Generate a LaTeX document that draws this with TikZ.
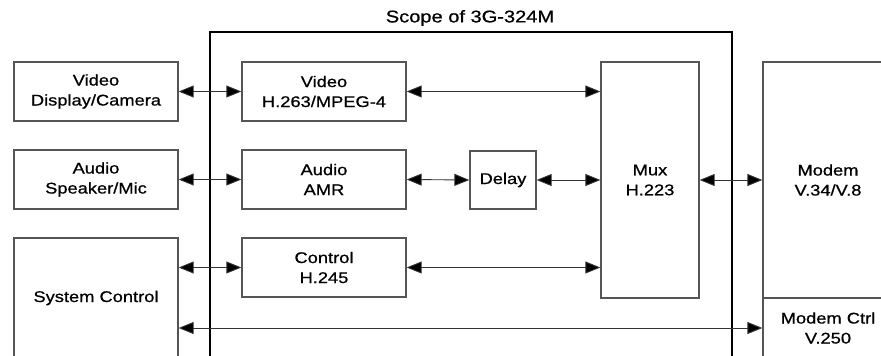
\documentclass[tikz,border=0pt]{standalone}
\usepackage{fontspec}
\setmainfont{Liberation Sans}[FakeStretch=1.18,FakeBold=0.7]
\usepackage{tikz}
\usetikzlibrary{arrows.meta,positioning,calc}
\definecolor{boxline}{HTML}{555555}
\definecolor{wire}{HTML}{333333}
\begin{document}
\begin{tikzpicture}[x=1pt,y=-1pt,
  blk/.style={draw=boxline,line width=1.3pt,align=center,inner sep=0pt,
    minimum width=164pt,minimum height=59pt,font=\fontsize{15.5}{20}\selectfont},
  link/.style={wire,line width=0.9pt,
    arrows={Triangle[length=15pt,width=12pt,fill=black]-Triangle[length=15pt,width=12pt,fill=black]}}]
\useasboundingbox (0,0) rectangle (881,356);
\clip (0,0) rectangle (881,356);
\draw[line width=2.4pt] (210,400)--(210,32)--(732,32)--(732,400);
\node[font=\fontsize{17}{20}\selectfont] (title) at (470,18) {Scope of 3G-324M};
\node[blk] (viddev) at (96,91.5) {Video\\Display/Camera};
\node[blk] (auddev) at (96,179.5) {Audio\\Speaker/Mic};
\node[blk,minimum height=120pt] (sysctl) at (96,298) {System Control};
\node[blk] (vidcodec) at (324,91.5) {Video\\H.263/MPEG-4};
\node[blk] (audcodec) at (324,179.5) {Audio\\AMR};
\node[blk] (ctrl) at (324,267.5) {Control\\H.245};
\node[blk,minimum width=66pt,minimum height=58pt] (delay) at (503,180) {Delay};
\node[blk,minimum width=98pt,minimum height=236pt] (mux) at (650,180) {Mux\\H.223};
\node[blk,minimum width=130pt,minimum height=236pt] (modem) at (828,180) {Modem\\V.34/V.8};
\node[blk,minimum width=130pt,minimum height=60pt] (modemctrl) at (828,328) {Modem Ctrl\\V.250};
\draw[link] (viddev.east) -- (vidcodec.west);
\draw[link] (vidcodec.east) -- (vidcodec.east -| mux.west);
\draw[link] (auddev.east) -- (audcodec.west);
\draw[link] (audcodec.east) -- (delay.west);
\draw[link] (delay.east) -- (mux.west);
\draw[link] (ctrl.west -| sysctl.east) -- (ctrl.west);
\draw[link] (ctrl.east) -- (ctrl.east -| mux.west);
\draw[link] (mux.east) -- (modem.west);
\draw[link] (modemctrl.west -| sysctl.east) -- (modemctrl.west);
\end{tikzpicture}
\end{document}
